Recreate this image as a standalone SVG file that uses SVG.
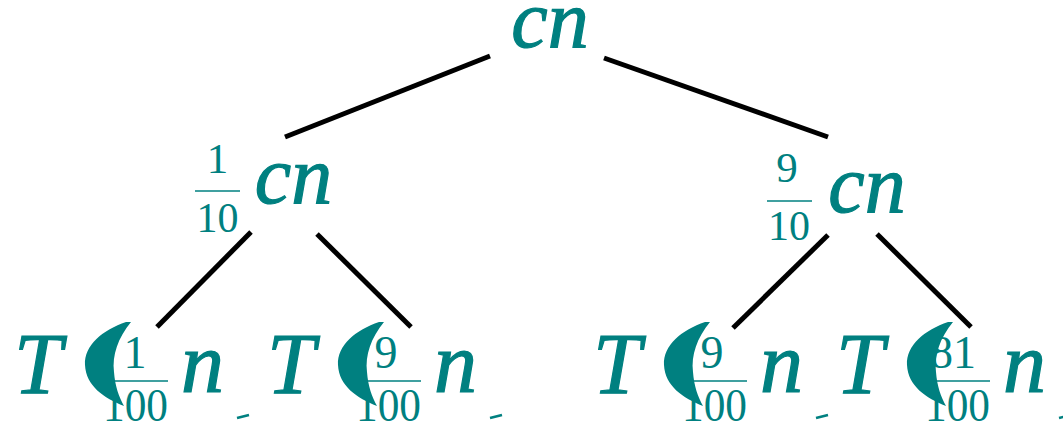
<svg xmlns="http://www.w3.org/2000/svg" width="1063" height="428" viewBox="0 0 1063 428">
<style>
.it{font-family:"Liberation Serif","Times New Roman",serif;font-style:italic;fill:#008080;stroke:#008080;stroke-width:1.2;}
.rm{font-family:"Liberation Serif","Times New Roman",serif;fill:#008080;text-anchor:middle;}
.edge{stroke:#000;stroke-width:5;fill:none;}
.bar{stroke:#008080;stroke-width:1.6;}
.paren{fill:#008080;}
.close{stroke:#008080;stroke-width:2.5;}
</style>
<defs>
<path id="cres" d="M131,322 C118,338 112,355 114,372 C115,386 119,397 124,406 C104,398 86,386 85,365 C84,345 103,330 126,322 Z"/>
</defs>
<rect width="1063" height="428" fill="#fff"/>
<g id="connectors">
<line class="edge" x1="490" y1="56" x2="285" y2="137"/>
<line class="edge" x1="604" y1="58" x2="828" y2="137"/>
<line class="edge" x1="251" y1="232" x2="157" y2="327"/>
<line class="edge" x1="317" y1="234" x2="411" y2="327"/>
<line class="edge" x1="828" y1="235" x2="733" y2="328"/>
<line class="edge" x1="877" y1="234" x2="971" y2="327"/>
</g>
<g id="root">
<text class="it" x="550" y="47" font-size="82" text-anchor="middle">cn</text>
</g>
<g id="left">
<text class="rm" x="217.5" y="173" font-size="43">1</text>
<line class="bar" x1="195" y1="191" x2="240" y2="191"/>
<text class="rm" x="217.5" y="232" font-size="43" textLength="42" lengthAdjust="spacingAndGlyphs">10</text>
<text class="it" x="293.5" y="203" font-size="82" text-anchor="middle">cn</text>
</g>
<g id="right">
<text class="rm" x="787" y="182" font-size="43">9</text>
<line class="bar" x1="767" y1="201" x2="812" y2="201"/>
<text class="rm" x="789" y="240" font-size="43" textLength="42" lengthAdjust="spacingAndGlyphs">10</text>
<text class="it" x="867" y="212" font-size="82" text-anchor="middle">cn</text>
</g>
<g id="leaf1">
<text class="it" x="14" y="393" font-size="86">T</text>
<use href="#cres" class="paren"/>
<text class="rm" x="135" y="368" font-size="46">1</text>
<line class="bar" x1="103" y1="381" x2="168" y2="381"/>
<text class="rm" x="135.5" y="421" font-size="46" textLength="65" lengthAdjust="spacingAndGlyphs">100</text>
<text class="it" x="181" y="392" font-size="86">n</text>
<line class="close" x1="237" y1="418" x2="249" y2="415"/>
</g>
<g id="leaf2" transform="translate(253,0)">
<text class="it" x="14" y="393" font-size="86">T</text>
<use href="#cres" class="paren"/>
<text class="rm" x="133" y="368" font-size="46">9</text>
<line class="bar" x1="103" y1="381" x2="168" y2="381"/>
<text class="rm" x="135.5" y="421" font-size="46" textLength="65" lengthAdjust="spacingAndGlyphs">100</text>
<text class="it" x="181" y="392" font-size="86">n</text>
<line class="close" x1="237" y1="418" x2="249" y2="415"/>
</g>
<g id="leaf3" transform="translate(579,0)">
<text class="it" x="14" y="393" font-size="86">T</text>
<use href="#cres" class="paren"/>
<text class="rm" x="133" y="368" font-size="46">9</text>
<line class="bar" x1="103" y1="381" x2="168" y2="381"/>
<text class="rm" x="135.5" y="421" font-size="46" textLength="65" lengthAdjust="spacingAndGlyphs">100</text>
<text class="it" x="181" y="392" font-size="86">n</text>
<line class="close" x1="237" y1="418" x2="249" y2="415"/>
</g>
<g id="leaf4" transform="translate(822,0)">
<text class="it" x="14" y="393" font-size="86">T</text>
<use href="#cres" class="paren"/>
<text class="rm" x="131" y="368" font-size="46">81</text>
<line class="bar" x1="103" y1="381" x2="168" y2="381"/>
<text class="rm" x="135.5" y="421" font-size="46" textLength="65" lengthAdjust="spacingAndGlyphs">100</text>
<text class="it" x="181" y="392" font-size="86">n</text>
<line class="close" x1="237" y1="418" x2="249" y2="415"/>
</g>
</svg>
